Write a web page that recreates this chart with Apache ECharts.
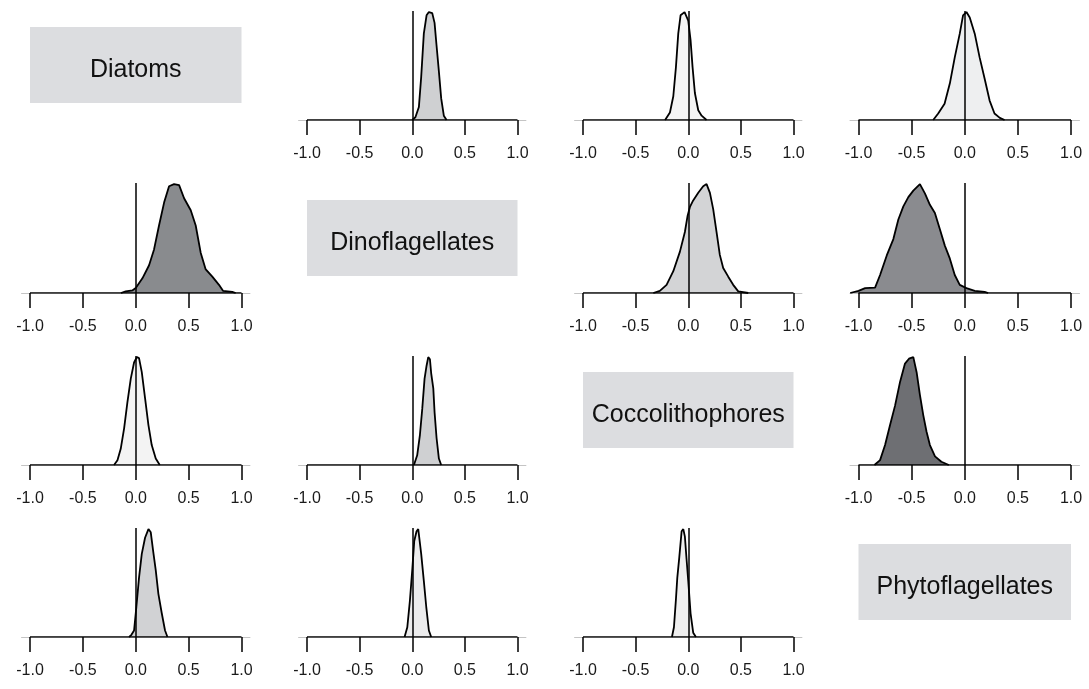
<!DOCTYPE html>
<html><head><meta charset="utf-8">
<script src="https://cdn.jsdelivr.net/npm/echarts@6/dist/echarts.min.js"></script>
<style>html,body{margin:0;padding:0;background:#fff}#c{width:1089px;height:689px}</style>
</head><body><div id="c"></div>
<script>
// ---- data ----
const groups = ['Diatoms', 'Dinoflagellates', 'Coccolithophores', 'Phytoflagellates'];
const tickValues = [-1, -0.5, 0, 0.5, 1];

// posterior densities [x, relative density]
const dens_0_1 = [[0,0],[0.03,2.5],[0.063,12],[0.085,40],[0.11,80],[0.136,97],[0.158,100],[0.19,99],[0.212,90],[0.23,70],[0.253,45],[0.275,20],[0.30,4],[0.326,0]];
const dens_0_2 = [[-0.22,0],[-0.174,7],[-0.142,22],[-0.117,49],[-0.095,80],[-0.073,97],[-0.035,100],[0,92],[0.022,74],[0.041,49],[0.063,25],[0.095,9],[0.127,4],[0.174,0]];
const dens_0_3 = [[-0.297,0],[-0.25,6],[-0.19,15],[-0.14,34],[-0.094,58],[-0.047,80],[-0.016,97],[0.016,100],[0.047,95],[0.094,80],[0.14,58],[0.19,37],[0.234,18],[0.28,6],[0.33,2],[0.375,0]];
const dens_1_0 = [[-0.14,0],[-0.095,1.5],[-0.03,2.5],[0,4.5],[0.063,13.5],[0.126,25.5],[0.173,40],[0.22,62],[0.268,83],[0.315,98],[0.362,100],[0.41,99],[0.457,87],[0.52,76],[0.567,62],[0.614,37],[0.66,22],[0.724,15],[0.787,7.5],[0.825,2],[0.913,1],[0.945,0]];
const dens_1_2 = [[-0.332,0],[-0.27,2],[-0.206,7.5],[-0.142,20],[-0.079,38],[-0.032,56],[-0.006,71],[0.016,79],[0.047,85],[0.095,92],[0.142,98],[0.174,100],[0.206,92],[0.237,77],[0.269,56],[0.30,35],[0.332,23],[0.38,15],[0.427,7.5],[0.475,1.5],[0.57,0]];
const dens_1_3 = [[-1.078,0],[-1.0,2],[-0.9375,4.5],[-0.844,5],[-0.797,16.5],[-0.734,34.5],[-0.672,49.5],[-0.625,67.5],[-0.578,79.5],[-0.531,88],[-0.484,94],[-0.422,100],[-0.375,91.5],[-0.328,81],[-0.281,73.5],[-0.234,58.5],[-0.1875,43.5],[-0.14,31.5],[-0.094,16.5],[-0.047,7.5],[0.016,4.5],[0.094,2],[0.1875,1],[0.22,0]];
const dens_2_0 = [[-0.205,0],[-0.173,4.5],[-0.142,15],[-0.11,34],[-0.079,58],[-0.047,80],[-0.016,95],[0.01,100],[0.031,99],[0.057,86],[0.088,62],[0.12,37],[0.151,18.5],[0.189,6],[0.227,0]];
const dens_2_1 = [[0.016,0],[0.047,9],[0.073,28],[0.095,52],[0.117,80],[0.136,92],[0.152,100],[0.168,98],[0.18,85],[0.2,71],[0.212,49],[0.231,25],[0.253,6],[0.275,0]];
const dens_2_3 = [[-0.85,0],[-0.797,4.5],[-0.75,18.5],[-0.703,37],[-0.656,55],[-0.609,77],[-0.5625,94],[-0.525,98.5],[-0.484,100],[-0.453,86],[-0.422,65],[-0.39,46],[-0.36,31],[-0.328,18.5],[-0.28,8],[-0.22,3],[-0.15,0]];
const dens_3_0 = [[-0.063,0],[-0.041,2],[-0.016,6],[0.006,28],[0.031,55],[0.057,77],[0.088,92],[0.12,100],[0.142,97],[0.164,80],[0.189,62],[0.214,40],[0.246,22],[0.277,6],[0.30,0]];
const dens_3_1 = [[-0.073,0],[-0.047,9],[-0.022,34],[0,62],[0.019,89],[0.041,98],[0.057,100],[0.085,77],[0.11,52],[0.133,28],[0.158,6],[0.18,0]];
const dens_3_2 = [[-0.155,0],[-0.136,9],[-0.117,35],[-0.104,55],[-0.085,74],[-0.063,98],[-0.047,100],[-0.032,93],[-0.016,72],[0,52],[0.022,22],[0.047,4],[0.073,0]];

// ---- styles / layout ----
const panels = [
  {r:0,c:1,data:dens_0_1,fill:'#cfd0d2'},
  {r:0,c:2,data:dens_0_2,fill:'#f4f4f4'},
  {r:0,c:3,data:dens_0_3,fill:'#eeeff0'},
  {r:1,c:0,data:dens_1_0,fill:'#898b8e'},
  {r:1,c:2,data:dens_1_2,fill:'#d3d4d6'},
  {r:1,c:3,data:dens_1_3,fill:'#8a8b8f'},
  {r:2,c:0,data:dens_2_0,fill:'#f3f3f3'},
  {r:2,c:1,data:dens_2_1,fill:'#cfd0d2'},
  {r:2,c:3,data:dens_2_3,fill:'#6e6f73'},
  {r:3,c:0,data:dens_3_0,fill:'#d1d2d4'},
  {r:3,c:1,data:dens_3_1,fill:'#ececed'},
  {r:3,c:2,data:dens_3_2,fill:'#efefef'}
];
const W = 1089, H = 689;
const colM1 = [30, 307, 583, 858.5];     // pixel of x = -1
const colP1 = [241.5, 517.5, 793.5, 1071]; // pixel of x = +1
const rowAxis = [120, 293, 465, 637];
const rowTop = [11, 183, 356, 528];
const FONT = '"Liberation Sans", Arial, sans-serif';

const grids = [], xAxes = [], yAxes = [], series = [], graphics = [];
panels.forEach((p, i) => {
  const span = (colP1[p.c] - colM1[p.c]) / 2;
  const left = colM1[p.c] - 0.08 * span;
  const right = W - (colP1[p.c] + 0.08 * span);
  grids.push({left: left, right: right, top: rowTop[p.r], bottom: H - rowAxis[p.r]});
  xAxes.push({
    gridIndex: i, type: 'value', min: -1.08, max: 1.08,
    axisLine: {show: true, lineStyle: {color: '#c4c4c4', width: 1}},
    axisTick: {show: true, customValues: tickValues, length: 15, lineStyle: {color: '#000', width: 1.5}},
    axisLabel: {show: true, customValues: tickValues, margin: 26, fontSize: 16, fontFamily: FONT, color: '#1a1a1a',
      formatter: v => v.toFixed(1)},
    splitLine: {show: false}
  });
  const peak = Math.max(...p.data.map(d => d[1]));
  yAxes.push({gridIndex: i, type: 'value', min: 0, max: peak * 1.01, show: false});
  series.push({
    type: 'line', xAxisIndex: i, yAxisIndex: i, data: p.data, symbol: 'none', smooth: false,
    lineStyle: {color: '#000', width: 1.8}, areaStyle: {color: p.fill, opacity: 1},
    silent: true, animation: false, z: 2,
    markLine: {silent: true, symbol: 'none', label: {show: false}, animation: false,
      lineStyle: {color: '#000', width: 1.5, type: 'solid'}, data: [{xAxis: 0}]}
  });
  series.push({
    type: 'line', xAxisIndex: i, yAxisIndex: i, data: [[-1, 0], [1, 0]], symbol: 'none',
    lineStyle: {color: '#000', width: 1.5}, silent: true, animation: false, z: 3
  });
});

// diagonal name boxes
groups.forEach((g, k) => {
  const x0 = colM1[k], x1 = colP1[k];
  const top = rowAxis[k] - 93;
  graphics.push({type: 'rect', shape: {x: x0, y: top, width: x1 - x0, height: 76},
    style: {fill: '#dcdde0'}, silent: true});
  graphics.push({type: 'text', x: (x0 + x1) / 2, y: top + 43,
    style: {text: g, font: '25px ' + FONT, fill: '#111', align: 'center', verticalAlign: 'middle'}, silent: true});
});

const chart = echarts.init(document.getElementById('c'), null, {renderer: 'canvas'});
chart.setOption({
  animation: false, backgroundColor: '#fff',
  grid: grids, xAxis: xAxes, yAxis: yAxes, series: series, graphic: graphics
});
</script></body></html>
